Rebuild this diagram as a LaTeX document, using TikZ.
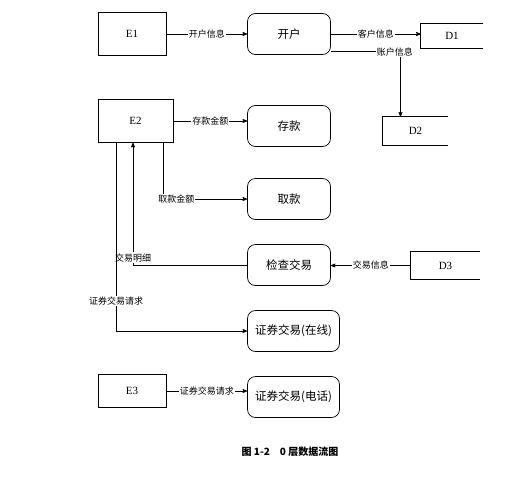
\documentclass[tikz,border=0pt]{standalone}
\usepackage{fontspec}
\setmainfont{Liberation Serif}
\newfontfamily\cjk{Noto Sans CJK SC}
\usetikzlibrary{arrows}

\begin{document}
\begin{tikzpicture}[-,>=stealth',x=1pt,y=-1pt,line width=0.7pt,node distance=66pt,
    proc/.style={draw,rounded corners=8pt,minimum width=83pt,minimum height=41pt,
                 font=\cjk\fontsize{11.5}{13}\selectfont},
    ext/.style={draw,minimum width=68pt,minimum height=43pt,font=\fontsize{11}{13}\selectfont},
    store/.style={minimum width=65pt,minimum height=27pt,font=\fontsize{11}{13}\selectfont},
    flow/.style={fill=white,inner sep=1pt,font=\cjk\fontsize{9}{10}\selectfont}]
  \useasboundingbox (0,0) rectangle (526,495);

  \node[proc] (kaihu) at (289,34) {开户};
  \node[proc] (cunkuan) [below of=kaihu, node distance=92pt] {存款};
  \node[proc] (qukuan) [below of=cunkuan, node distance=73pt] {取款};
  \node[proc] (jiancha) [below of=qukuan] {检查交易};
  \node[proc, minimum width=92pt] (zaixian) [below of=jiancha, xshift=4.5pt] {证券交易(在线)};
  \node[proc, minimum width=92pt] (dianhua) [below of=zaixian] {证券交易(电话)};

  \node[ext] (E1) [left of=kaihu, node distance=157pt] {E1};
  \node[ext, minimum width=75pt] (E2) at (135.5,121) {E2};
  \node[ext, minimum height=33pt] (E3) at (132,391) {E3};

  \node[store, minimum width=62pt, minimum height=24pt] (D1) at (452,36) {D1};
  \node[store, minimum height=28pt] (D2) at (415.5,131) {D2};
  \node[store, minimum width=69pt] (D3) at (445.5,265.5) {D3};
  \foreach \d in {D1,D2,D3}
    \draw (\d.north east) -- (\d.north west) -- (\d.south west) -- (\d.south east);

  \draw[->] (E1) -- node[flow] {开户信息} (E1 -| kaihu.west);
  \draw[->] (kaihu) -- node[flow] {客户信息} (kaihu -| D1.west);
  \draw[->] (kaihu.-23) -| node[flow, pos=0.46] {账户信息} ([xshift=-15pt]D2.north);
  \draw[->] (E2) -- node[flow] {存款金额} (E2 -| cunkuan.west);
  \draw[->] ([xshift=27.5pt]E2.south) |- node[flow, pos=0.58] {取款金额} (qukuan);
  \draw[->] (jiancha) -| node[flow, pos=0.53] {交易明细} ([xshift=-2.5pt]E2.south);
  \draw[->] (D3) -- node[flow] {交易信息} (D3 -| jiancha.east);
  \draw[->] ([xshift=-19.5pt]E2.south) |- node[flow, pos=0.42] {证券交易请求} (zaixian);
  \draw[->] (E3) -- node[flow] {证券交易请求} (E3 -| dianhua.west);

  \node[font=\cjk\bfseries\fontsize{10}{12}\selectfont] (caption) at (290,452)
    {图 1-2\quad 0 层数据流图};
\end{tikzpicture}
\end{document}
